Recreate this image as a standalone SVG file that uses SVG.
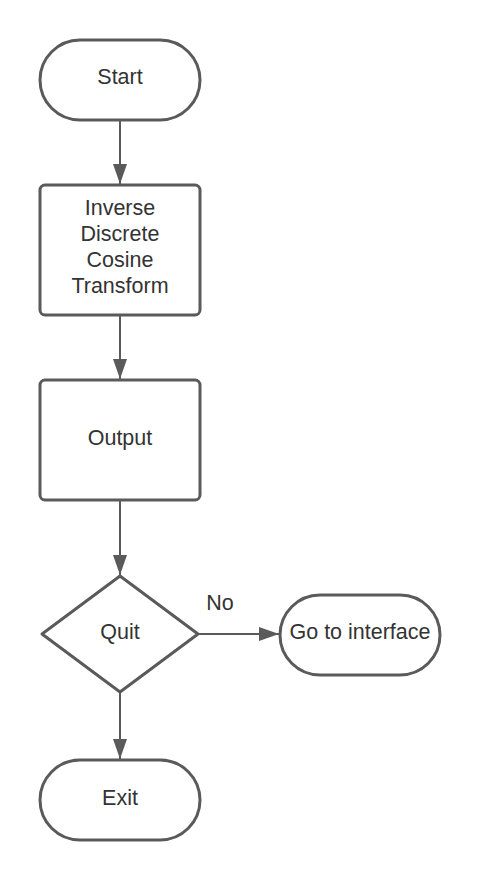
<svg xmlns="http://www.w3.org/2000/svg" width="480" height="880" viewBox="0 0 480 880">
<style>
.s{fill:#fff;stroke:#5a5a5a;stroke-width:3}
.t{font-family:"Liberation Sans",Arial,sans-serif;font-size:21.5px;fill:#333;text-anchor:middle}
.c{stroke:#5a5a5a;stroke-width:2;fill:none}
</style>
<defs>
<marker id="b" markerWidth="20" markerHeight="14" refX="20" refY="7" orient="auto" markerUnits="userSpaceOnUse"><path d="M0,0 L20,7 L0,14 Z" fill="#5a5a5a"/></marker>
</defs>
<rect width="480" height="880" fill="#fff"/>
<g id="connectors">
<line class="c" x1="120" y1="120" x2="120" y2="184" marker-end="url(#b)"/>
<line class="c" x1="120" y1="315" x2="120" y2="379" marker-end="url(#b)"/>
<line class="c" x1="120" y1="500" x2="120" y2="575" marker-end="url(#b)"/>
<line class="c" x1="198" y1="634" x2="279" y2="634" marker-end="url(#b)"/>
<line class="c" x1="120" y1="692" x2="120" y2="759" marker-end="url(#b)"/>
<text class="t" x="220" y="610">No</text>
</g>
<g id="start"><rect class="s" x="40" y="40" width="160" height="80" rx="40"/><text class="t" x="120" y="84">Start</text></g>
<g id="idct"><rect class="s" x="40" y="185" width="160" height="130" rx="5"/>
<text class="t" x="120" y="215">Inverse</text><text class="t" x="120" y="241">Discrete</text><text class="t" x="120" y="267">Cosine</text><text class="t" x="120" y="293">Transform</text></g>
<g id="output"><rect class="s" x="40" y="380" width="160" height="120" rx="5"/><text class="t" x="120" y="445">Output</text></g>
<g id="quit"><path class="s" d="M120,576 L198,634 L120,692 L42,634 Z" stroke-linejoin="round"/><text class="t" x="120" y="639">Quit</text></g>
<g id="goto"><rect class="s" x="280" y="595" width="160" height="80" rx="40"/><text class="t" x="360" y="639">Go to interface</text></g>
<g id="exit"><rect class="s" x="40" y="760" width="160" height="80" rx="40"/><text class="t" x="120" y="805">Exit</text></g>
</svg>
